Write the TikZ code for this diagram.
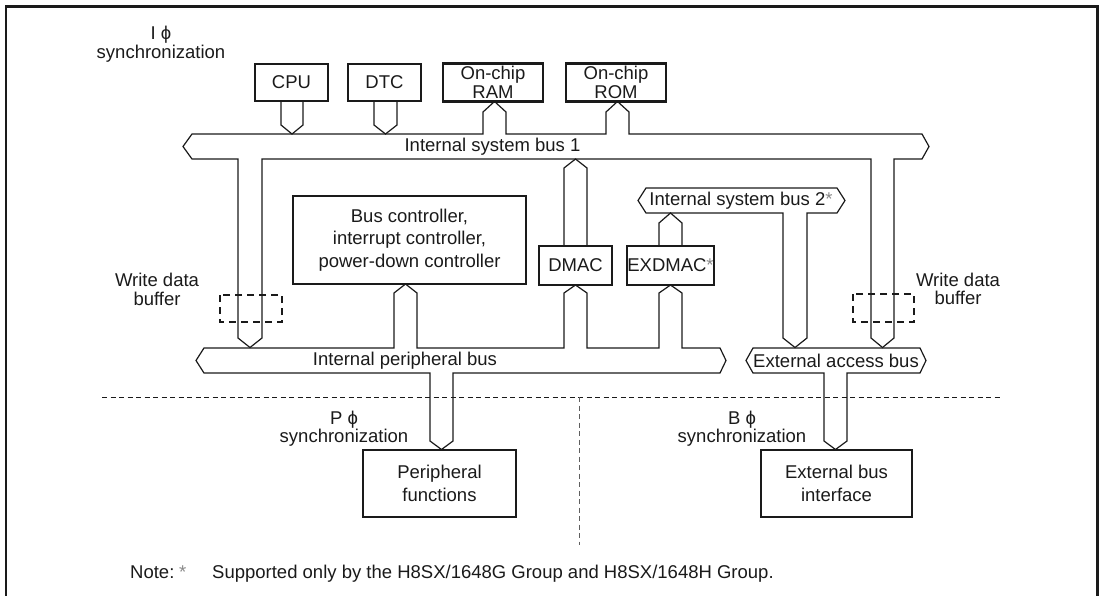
\documentclass[tikz,border=0pt]{standalone}
\usepackage{fontspec}
\setmainfont{Liberation Sans}
\definecolor{ink}{HTML}{1A1A1A}
\definecolor{star}{HTML}{888888}
\newcommand\fs{\fontsize{18.5}{22.5}\selectfont}
\newcommand\fst{\fontsize{18.5}{18.5}\selectfont}
\begin{document}
\begin{tikzpicture}[x=1pt,y=-1pt,
  every node/.style={text=ink},
  blk/.style={draw=ink, line width=2.2pt, inner sep=0pt, align=center, font=\fs},
  busline/.style={draw=ink, line width=1.2pt, line join=miter},
  lbl/.style={inner sep=0pt, align=center, font=\fst},
  buslbl/.style={inner sep=0pt, font=\fs},
  wdb/.style={draw=ink, line width=1.1pt, dash pattern=on 7pt off 5pt},
  sep/.style={draw=ink, line width=1pt, dash pattern=on 5pt off 3.5pt}]
\useasboundingbox (0,0) rectangle (1102,595);
% frame
\draw[line width=2.6pt, ink] (6,596) -- (6,6.5) -- (1097.5,6.5) -- (1097.5,596);

% boxes
\node[blk, minimum width=73pt, minimum height=37pt] (cpu) at (291.5,82.5) {CPU};
\node[blk, minimum width=73pt, minimum height=37pt] (dtc) at (384.5,82.5) {DTC};
\node[blk, minimum width=100pt, minimum height=38pt, font=\fst] (ram) at (493,82.5) {On-chip\\RAM};
\node[blk, minimum width=100pt, minimum height=38pt, font=\fst] (rom) at (616,82.5) {On-chip\\ROM};
\node[blk, minimum width=233pt, minimum height=88pt] (bsc) at (409.5,240) {Bus controller,\\interrupt controller,\\power-down controller};
\node[blk, minimum width=73pt, minimum height=39pt] (dmac) at (575.5,265.5) {DMAC};
\node[blk, minimum width=85pt, minimum height=39pt] (exdmac) at (670.5,265.5) {EXDMAC\textcolor{star}{*}};
\node[blk, minimum width=153pt, minimum height=67pt] (perif) at (439.5,483.5) {Peripheral\\functions};
\node[blk, minimum width=151pt, minimum height=67pt] (extif) at (836.5,483.5) {External bus\\interface};

% Internal system bus 1 with drops
\draw[busline] (483,134) -- (192,134) -- (183,146.5) -- (192,159) -- (238,159)
  -- (238,338) -- (250,347.5) -- (262,338) -- (262,159) -- (871,159)
  -- (871,338) -- (882.5,347.5) -- (894,338) -- (894,159) -- (922,159)
  -- (929,146.5) -- (922,134) -- (629,134) -- (629,112) -- (617.5,101.5)
  -- (606,112) -- (606,134) -- (506,134) -- (506,112) -- (494.5,101.5)
  -- (483,112) -- cycle;
% CPU / DTC stubs
\draw[busline] (cpu.south -| 281,0) -- (281,125) -- (292,134) -- (303,125) -- (cpu.south -| 303,0);
\draw[busline] (dtc.south -| 374,0) -- (374,125) -- (385.5,134) -- (397,125) -- (dtc.south -| 397,0);
% DMAC to bus 1
\draw[busline] (dmac.north -| 564,0) -- (564,168) -- (575.5,159) -- (587,168) -- (dmac.north -| 587,0);

% Internal system bus 2
\draw[busline] (783,213) -- (646,213) -- (638,200.5) -- (646,188) -- (837,188)
  -- (845,200.5) -- (837,213) -- (807,213) -- (807,338) -- (795,347.5)
  -- (783,338) -- cycle;
\draw[busline] (exdmac.north -| 659,0) -- (659,223) -- (670.5,213) -- (682,223) -- (exdmac.north -| 682,0);

% Internal peripheral bus
\draw[busline] (394,348) -- (204,348) -- (196,360.5) -- (204,373) -- (430,373)
  -- (430,441) -- (441.5,449.5) -- (453,441) -- (453,373) -- (720,373)
  -- (726,360.5) -- (720,348) -- (682,348) -- (682,293) -- (670.5,285)
  -- (659,293) -- (659,348) -- (587,348) -- (587,293) -- (575.5,285)
  -- (564,293) -- (564,348) -- (417,348) -- (417,293) -- (405.5,284)
  -- (394,293) -- cycle;

% External access bus
\draw[busline] (824,373) -- (753,373) -- (746,360.5) -- (753,348) -- (920,348)
  -- (926,360.5) -- (920,373) -- (847,373) -- (847,441) -- (835.5,449.5)
  -- (824,441) -- cycle;

% write data buffers
\draw[wdb] (220,295) rectangle (282,322);
\draw[wdb] (853,294) rectangle (914,322);

% separators
\draw[sep] (102,397) -- (1002,397);
\draw[sep, draw=ink!70] (579,397) -- (579,545);

% labels
\node[lbl] (isync) at (161,44) {I ϕ\\synchronization};
\node[lbl] (wdbl) at (157,289.5) {Write data\\buffer};
\node[lbl] (wdbr) at (958,289) {Write data\\buffer};
\node[lbl] (psync) at (344,428.5) {P ϕ\\synchronization};
\node[lbl] (bsync) at (742,428.5) {B ϕ\\synchronization};
\node[buslbl] (isb1) at (492.5,146.5) {Internal system bus 1};
\node[buslbl] (isb2) at (741,200.5) {Internal system bus 2\textcolor{star}{*}};
\node[buslbl] (ipb) at (405,360.5) {Internal peripheral bus};
\node[buslbl] (eab) at (836,360.5) {External access bus};

% note
\node[buslbl, anchor=base west] (note) at (130,578.5) {Note:};
\node[buslbl, anchor=base west, text=star] (notestar) at (179,578.5) {*};
\node[buslbl, anchor=base west] (notetext) at (212,578.5) {Supported only by the H8SX/1648G Group and H8SX/1648H Group.};
\end{tikzpicture}
\end{document}
